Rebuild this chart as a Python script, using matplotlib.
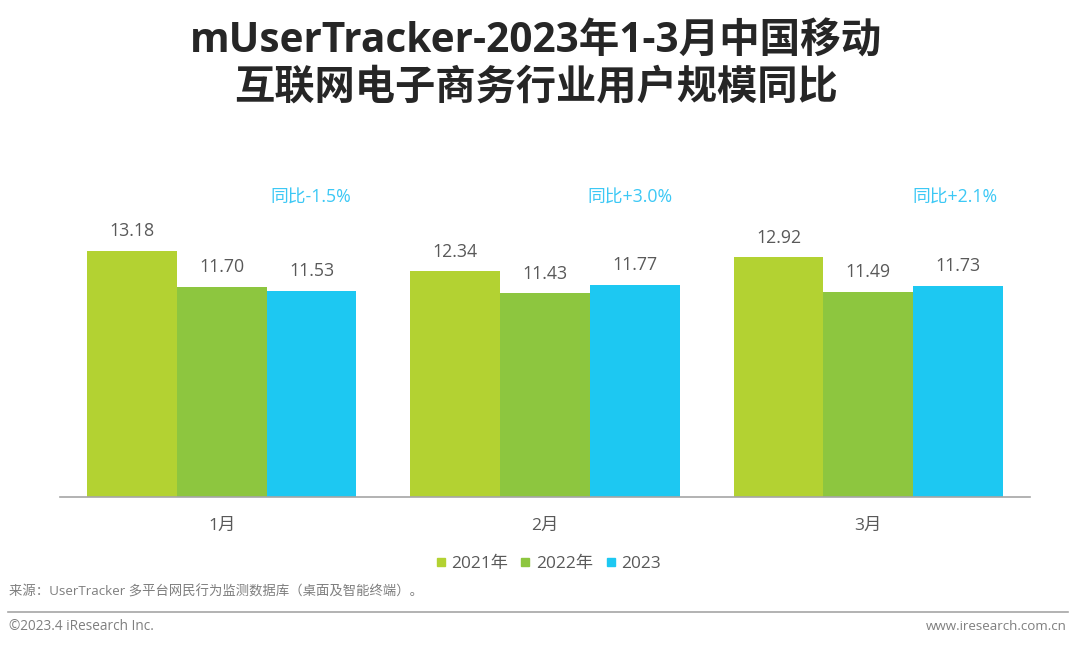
import matplotlib
matplotlib.use("Agg")
import matplotlib.pyplot as plt
import numpy as np
from matplotlib.lines import Line2D

plt.rcParams['font.family'] = ['Open Sans', 'Noto Sans CJK SC', 'DejaVu Sans']

months = ['1月', '2月', '3月']
series_names = ['2021年', '2022年', '2023']
v2021 = [13.18, 12.34, 12.92]
v2022 = [11.70, 11.43, 11.49]
v2023 = [11.53, 11.77, 11.73]
yoy = ['同比-1.5%', '同比+3.0%', '同比+2.1%']
colors = ['#B3D232', '#8DC63F', '#1DC8F2']
W, H = 1080, 646

fig = plt.figure(figsize=(W/100, H/100), dpi=100, facecolor='white')
ax = fig.add_axes([60/W, 1-497/H, 970/W, 337/H])
x = np.arange(3)
bw = 0.278
for i, (vals, c) in enumerate(zip([v2021, v2022, v2023], colors)):
    bars = ax.bar(x + (i-1)*bw, vals, bw, color=c, linewidth=0)
    for b, v in zip(bars, vals):
        ax.annotate(f'{v:.2f}', (b.get_x()+bw/2, v), xytext=(0, 14.2), textcoords='offset points',
                    ha='center', va='center', fontsize=12.8, color='#595959')
ax.set_xlim(-0.5, 2.5)
ax.set_ylim(3, 3 + 337/24.16)
ax.set_yticks([])
ax.set_xticks(x, months, fontsize=12.5, color='#595959')
ax.tick_params(axis='x', length=0, pad=15)
for s in ['top', 'left', 'right']:
    ax.spines[s].set_visible(False)
ax.spines['bottom'].set_color('#A6A6A6')
ax.spines['bottom'].set_linewidth(1.2)

def ftext(px, py, s, **kw):
    return fig.text(px/W, 1-py/H, s, **kw)

for px, s in zip([311, 630, 955], yoy):
    ftext(px, 198, s, ha='center', va='center', fontsize=12.8, color='#3CC8F5')

ftext(536, 42, 'mUserTracker-2023年1-3月中国移动', ha='center', va='center',
      fontsize=29.2, fontweight='bold', color='#262626')
ftext(536, 88, '互联网电子商务行业用户规模同比', ha='center', va='center',
      fontsize=29, fontweight='bold', color='#262626')

handles = [Line2D([], [], marker='s', linestyle='none', color=c, markersize=6) for c in colors]
fig.legend(handles, series_names, loc='center', bbox_to_anchor=(548/W, 1-564/H), ncol=3, frameon=False,
           fontsize=12.4, labelcolor='#595959', handlelength=0.6, handletextpad=0.3, columnspacing=0.72)

ftext(9, 592, '来源\uff1aUserTracker 多平台网民行为监测数据库\uff08桌面及智能终端\uff09。', ha='left', va='center',
      fontsize=9.6, color='#7F7F7F')
ftext(9, 626, '©2023.4 iResearch Inc.', ha='left', va='center', fontsize=9.8, color='#7F7F7F')
ftext(1067, 626, 'www.iresearch.com.cn', ha='right', va='center', fontsize=9.6, color='#7F7F7F')
fig.add_artist(Line2D([8/W, 1068/W], [1-612/H, 1-612/H], color='#A6A6A6', linewidth=1.2))

fig.savefig('out.png', dpi=100, facecolor='white')
